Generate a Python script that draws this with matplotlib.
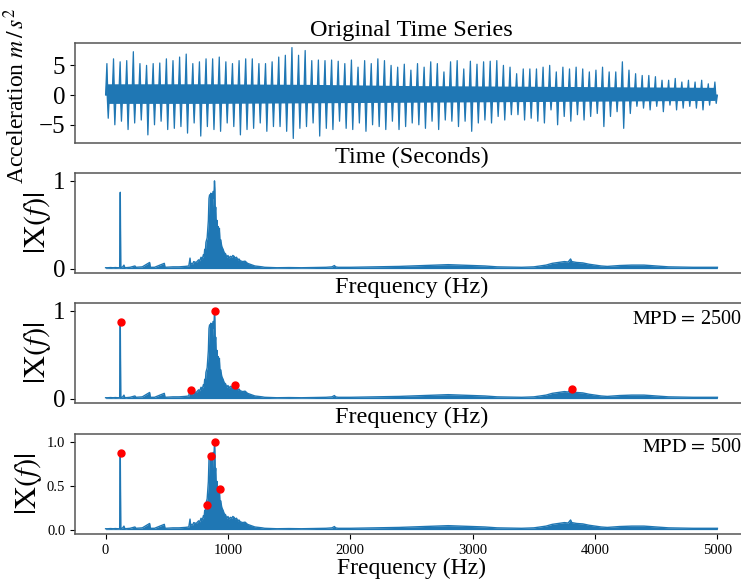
import numpy as np
import matplotlib
matplotlib.use("Agg")
import matplotlib.pyplot as plt
from matplotlib.collections import PolyCollection

plt.rcParams['font.family'] = ['Liberation Serif', 'DejaVu Serif']
plt.rcParams['mathtext.fontset'] = 'stix'

# ---------------- time series (spike envelope per cycle) ----------------
spike_up = [5.3, 6.1, 5.6, 5.8, 7.3, 5.3, 5.0, 5.3, 5.4, 6.1, 5.8, 6.4, 6.9, 5.3, 5.6, 6.1,
            6.1, 6.4, 5.6, 5.3, 5.8, 6.1, 6.1, 5.3, 5.3, 5.6, 6.4, 6.7, 8.0, 6.7, 7.5,
            5.8, 5.9, 5.8, 5.9, 5.7, 5.3, 5.9, 4.7, 5.8, 5.3, 6.1, 5.8, 5.0, 4.7, 5.2, 4.2,
            5.3, 4.7, 5.6, 5.3, 3.9, 5.6, 5.8, 4.4, 5.7, 5.2, 5.6, 5.7, 5.8, 5.0, 4.7,
            3.6, 4.4, 4.4, 4.4, 4.7, 5.0, 3.9, 4.7, 4.4, 4.7, 4.4, 3.9, 4.2, 4.7, 3.9, 3.9,
            5.6, 4.2, 3.6, 3.3, 3.3, 3.1, 2.5, 2.5, 2.8, 2.2, 2.5, 2.2, 2.5, 1.9, 2.2]
spike_down = [-3.9, -5.0, -4.4, -5.8, -4.7, -4.2, -6.7, -5.0, -4.4, -5.8, -5.6, -5.3, -6.4,
              -4.7, -6.9, -5.3, -5.8, -6.1, -4.7, -5.3, -6.7, -5.8, -5.6, -4.7, -6.1, -5.3,
              -5.3, -6.1, -7.3, -5.6, -5.3,
              -4.7, -6.9, -5.6, -5.8, -4.4, -5.6, -5.8, -4.7, -6.1, -5.0, -5.3, -5.8, -4.4,
              -5.8, -5.3, -4.7, -5.0, -5.6, -4.4, -5.8, -4.2, -4.4, -5.3, -4.4, -6.1, -4.7,
              -4.2, -4.7, -3.6, -4.2, -3.3,
              -3.3, -4.2, -3.9, -4.4, -4.7, -2.5, -5.0, -3.6, -4.4, -3.3, -4.2, -3.6, -3.1,
              -5.3, -3.6, -2.8, -5.6, -3.1, -1.9, -2.2, -2.5, -1.9, -2.8, -1.7, -2.5, -2.2,
              -1.9, -2.2, -2.5, -1.7, -1.4]
core_knot_idx = [0, 15, 31, 46, 62, 77, 92]
core_hi = [1.9, 1.9, 1.8, 1.6, 1.5, 1.4, 1.3]
core_lo = [-1.4, -1.4, -1.3, -1.2, -1.1, -1.0, -0.9]
cycle_period = 0.11  # seconds per cycle

# ---------------- spectrum envelope ----------------
freq = [0, 20, 40, 60, 80, 100, 115, 120, 124, 140, 150, 155, 160, 200, 240, 245, 250, 300,
        360, 365, 370, 400, 480, 485, 490, 550, 600, 650, 680, 690, 695, 700, 710, 720, 740,
        760, 770, 780, 790, 800, 805, 810, 815, 820, 830, 840, 845, 850, 855, 860, 865, 870,
        875, 880, 885, 890, 893, 896, 900, 905, 910, 915, 920, 925, 930, 935, 940, 950, 960,
        970, 980, 990, 1000, 1010, 1020, 1030, 1040, 1050, 1060, 1070, 1080, 1090, 1100, 1120,
        1140, 1160, 1180, 1200, 1220, 1250, 1280, 1300, 1350, 1400, 1500, 1600, 1700, 1800,
        1850, 1870, 1880, 1900, 2000, 2200, 2400, 2500, 2600, 2700, 2800, 2900, 3000, 3100,
        3200, 3400, 3500, 3600, 3650, 3700, 3750, 3780, 3800, 3810, 3850, 3900, 3950, 4000,
        4050, 4100, 4150, 4200, 4300, 4400, 4500, 4600, 4800, 5000]
amp = [0.01, 0.01, 0.012, 0.01, 0.012, 0.01, 0.01, 0.87, 0.01, 0.02, 0.04, 0.02, 0.01, 0.015,
       0.03, 0.02, 0.015, 0.02, 0.07, 0.02, 0.015, 0.015, 0.06, 0.02, 0.015, 0.02, 0.02, 0.025,
       0.03, 0.12, 0.05, 0.06, 0.05, 0.08, 0.07, 0.10, 0.09, 0.13, 0.11, 0.16, 0.14, 0.22, 0.18,
       0.30, 0.35, 0.55, 0.80, 0.84, 0.82, 0.86, 0.78, 0.85, 0.70, 0.88, 0.80, 1.0, 0.9, 0.65,
       0.70, 0.45, 0.55, 0.40, 0.48, 0.35, 0.46, 0.30, 0.33, 0.25, 0.22, 0.18, 0.17, 0.13, 0.15,
       0.12, 0.14, 0.13, 0.15, 0.14, 0.12, 0.13, 0.10, 0.11, 0.09, 0.08, 0.085, 0.06, 0.05,
       0.04, 0.03, 0.025, 0.02, 0.015, 0.012, 0.01, 0.012, 0.01, 0.012, 0.015, 0.02, 0.035,
       0.02, 0.015, 0.015, 0.02, 0.025, 0.03, 0.035, 0.04, 0.045, 0.04, 0.035, 0.03, 0.02,
       0.015, 0.02, 0.04, 0.06, 0.07, 0.08, 0.075, 0.11, 0.08, 0.07, 0.065, 0.05, 0.04, 0.03,
       0.025, 0.03, 0.035, 0.04, 0.04, 0.03, 0.02, 0.015, 0.015]

peaks_2500_f = [122, 700, 893, 1060, 3810]
peaks_2500_a = [0.87, 0.10, 1.0, 0.15, 0.11]
peaks_500_f = [122, 825, 860, 897, 934]
peaks_500_a = [0.87, 0.28, 0.84, 1.0, 0.46]

mpd_labels = ["2500", "500"]
freq_ticks = [0, 1000, 2000, 3000, 4000, 5000]

blue = '#1f77b4'
W, H = 741, 581
fig = plt.figure(figsize=(W / 100, H / 100), dpi=100)

def add_ax(top_px, bottom_px):
    left = 75 / W
    right = 748 / W
    return fig.add_axes([left, 1 - bottom_px / H, right - left, (bottom_px - top_px) / H])

def style(ax):
    for s in ax.spines.values():
        s.set_color('#555555')
        s.set_linewidth(1.1)

ax1 = add_ax(43, 143)
ax2 = add_ax(173, 273)
ax3 = add_ax(303, 403)
ax4 = add_ax(434, 534)

# time series: core band + one up-wedge and one down-wedge per cycle
n = len(spike_up)
t = np.arange(n) * cycle_period
tk = np.array(core_knot_idx) * cycle_period
p = cycle_period
wedges = []
for i in range(n):
    wedges.append([(t[i] - 0.22 * p, 0.0), (t[i] - 0.02 * p, spike_up[i]),
                   (t[i] + 0.12 * p, 0.0)])
    wedges.append([(t[i] + 0.02 * p, 0.0), (t[i] + 0.18 * p, spike_down[i]),
                   (t[i] + 0.36 * p, 0.0)])
ax1.fill_between(tk, core_lo, core_hi, color=blue, lw=0)
ax1.add_collection(PolyCollection(wedges, facecolors=blue, edgecolors=blue, linewidths=0.9))
ax1.plot(t, spike_up, lw=0, alpha=0)
ax1.plot(t, spike_down, lw=0, alpha=0)
ax1.set_xticks([])
ax1.set_yticks([-5, 0, 5])
ax1.tick_params(labelsize=18)
ax1.set_title("Original Time Series", fontsize=17.5, pad=5)
ax1.set_xlabel("Time (Seconds)", fontsize=17.5, labelpad=3)
ax1.set_ylabel(r"Acceleration $m\,/\,s^2$", fontsize=17)
ax1.yaxis.set_label_coords(-0.068, 0.47)
style(ax1)

for ax in (ax2, ax3, ax4):
    ax.fill_between(freq, 0, amp, color=blue, lw=0)
    ax.plot(freq, amp, color=blue, lw=1.0)
    ax.set_ylim(-0.05, 1.09)
    ax.set_ylabel(r"$|\mathrm{X}(f)|$", fontsize=22)
    ax.yaxis.set_label_coords(-0.033, 0.5)
    style(ax)
ax4.yaxis.set_label_coords(-0.046, 0.5)

for ax in (ax2, ax3):
    ax.set_xticks([])
    ax.set_yticks([0, 1])
    ax.tick_params(labelsize=18)
    ax.set_xlabel("Frequency (Hz)", fontsize=17.5, labelpad=3)

ax3.plot(peaks_2500_f, peaks_2500_a, 'o', color='red', ms=5)
ax3.text(0.99, 0.83, r"$\mathrm{MPD}\,=\,$" + mpd_labels[0], transform=ax3.transAxes,
         ha='right', va='center', fontsize=14.5)

ax4.plot(peaks_500_f, peaks_500_a, 'o', color='red', ms=5)
ax4.text(0.99, 0.86, r"$\mathrm{MPD}\,=\,$" + mpd_labels[1], transform=ax4.transAxes,
         ha='right', va='center', fontsize=14.5)
ax4.set_xticks(freq_ticks)
ax4.set_yticks([0.0, 0.5, 1.0])
ax4.set_yticklabels(["0.0", "0.5", "1.0"])
ax4.tick_params(labelsize=10.5)
ax4.set_xlabel("Frequency (Hz)", fontsize=17, labelpad=1)

fig.savefig("out.png", dpi=100)
